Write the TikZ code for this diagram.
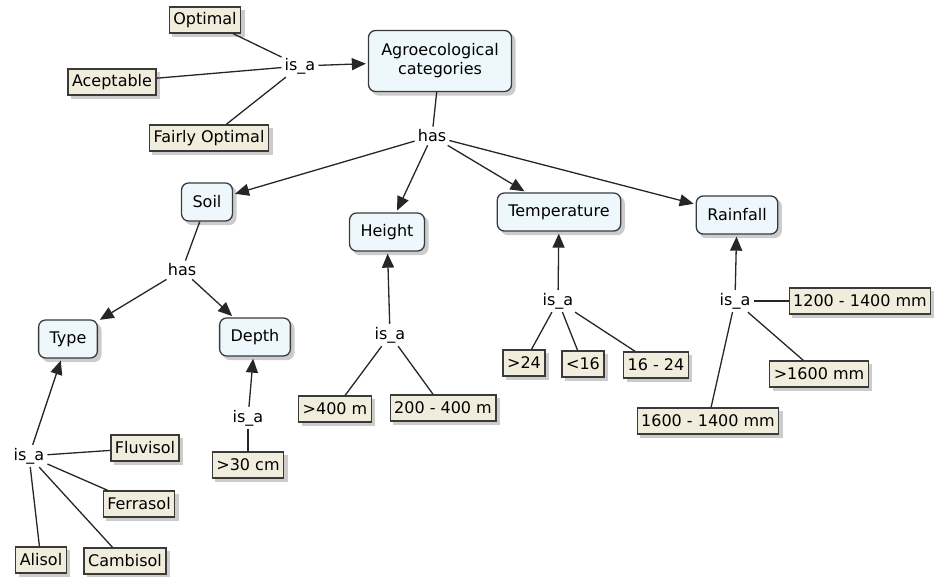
\documentclass[tikz,border=0pt]{standalone}
\usepackage{fontspec}
\setmainfont{DejaVu Sans}
\usetikzlibrary{arrows.meta}
\definecolor{cblue}{HTML}{EEF8FC}
\definecolor{cbeige}{HTML}{F1EDDC}
\definecolor{cborder}{HTML}{3A3A3A}
\tikzset{
  shad/.style={preaction={fill=black!20, draw=black!20, line width=1.3pt,
    transform canvas={xshift=3.5pt,yshift=-3.5pt}}},
  concept/.style={shad, draw=cborder, line width=1.3pt, fill=cblue, rounded corners=7pt,
    minimum height=38pt, inner xsep=11pt, font=\fontsize{16}{19}\selectfont},
  val/.style={shad, draw=cborder, line width=1.3pt, fill=cbeige,
    minimum height=26pt, inner xsep=4pt, inner ysep=2pt, font=\fontsize{16}{19}\selectfont},
  link/.style={inner sep=3pt, font=\fontsize{16}{19}\selectfont},
  ln/.style={draw=black!85, line width=1.3pt},
  arr/.style={ln, -{Triangle[length=14pt,width=12pt]}, shorten >=2pt},
}
\begin{document}
\begin{tikzpicture}[x=1pt,y=-1pt]
\useasboundingbox (0,0) rectangle (934,576);
% concepts
\node[concept, align=center, minimum width=143pt, minimum height=61pt] (agro) at (440,61) {Agroecological\\categories};
\node[concept] (soil) at (207,202) {Soil};
\node[concept] (height) at (387,232) {Height};
\node[concept] (temp) at (559,212) {Temperature};
\node[concept] (rain) at (737,215) {Rainfall};
\node[concept] (type) at (68,339) {Type};
\node[concept] (depth) at (255,337) {Depth};
% values
\node[val] (opt) at (205,20) {Optimal};
\node[val] (acep) at (112,82) {Aceptable};
\node[val] (fair) at (209,138) {Fairly Optimal};
\node[val] (fluv) at (145,448) {Fluvisol};
\node[val] (ferr) at (139,504) {Ferrasol};
\node[val] (alis) at (41,560) {Alisol};
\node[val] (camb) at (125,561) {Cambisol};
\node[val] (cm30) at (248,465) {>30 cm};
\node[val] (m400) at (335,409) {>400 m};
\node[val] (m200) at (443,408) {200 - 400 m};
\node[val] (t24) at (524,363) {>24};
\node[val] (t16) at (583,364) {<16};
\node[val] (t1624) at (656,365) {16 - 24};
\node[val] (r1200) at (860,301) {1200 - 1400 mm};
\node[val] (r1600) at (819,374) {>1600 mm};
\node[val] (r1614) at (708,421) {1600 - 1400 mm};
% linking phrases
\node[link] (isa1) at (300,66) {is\_a};
\node[link] (has1) at (432,136) {has};
\node[link] (has2) at (182,270) {has};
\node[link] (isa2) at (29,456) {is\_a};
\node[link] (isa3) at (248,418) {is\_a};
\node[link] (isa4) at (390,335) {is\_a};
\node[link] (isa5) at (558,301) {is\_a};
\node[link] (isa6) at (735,301) {is\_a};
% connectors
\draw[ln] (opt) -- (isa1);
\draw[ln] (acep) -- (isa1);
\draw[ln] (fair) -- (isa1);
\draw[arr] (isa1) -- (agro);
\draw[ln] (agro) -- (has1);
\draw[arr] (has1) -- (soil);
\draw[arr] (has1) -- (height);
\draw[arr] (has1) -- (temp);
\draw[arr] (has1) -- (rain);
\draw[ln] (soil) -- (has2);
\draw[arr] (has2) -- (type);
\draw[arr] (has2) -- (depth);
\draw[ln] (fluv) -- (isa2);
\draw[ln] (ferr) -- (isa2);
\draw[ln] (alis) -- (isa2);
\draw[ln] (camb) -- (isa2);
\draw[arr] (isa2) -- (type);
\draw[ln] (cm30) -- (isa3);
\draw[arr] (isa3) -- (depth);
\draw[ln] (m400) -- (isa4);
\draw[ln] (m200) -- (isa4);
\draw[arr] (isa4) -- (height);
\draw[ln] (t24) -- (isa5);
\draw[ln] (t16) -- (isa5);
\draw[ln] (t1624) -- (isa5);
\draw[arr] (isa5) -- (temp);
\draw[ln] (r1200) -- (isa6);
\draw[ln] (r1600) -- (isa6);
\draw[ln] (r1614) -- (isa6);
\draw[arr] (isa6) -- (rain);
\end{tikzpicture}
\end{document}
